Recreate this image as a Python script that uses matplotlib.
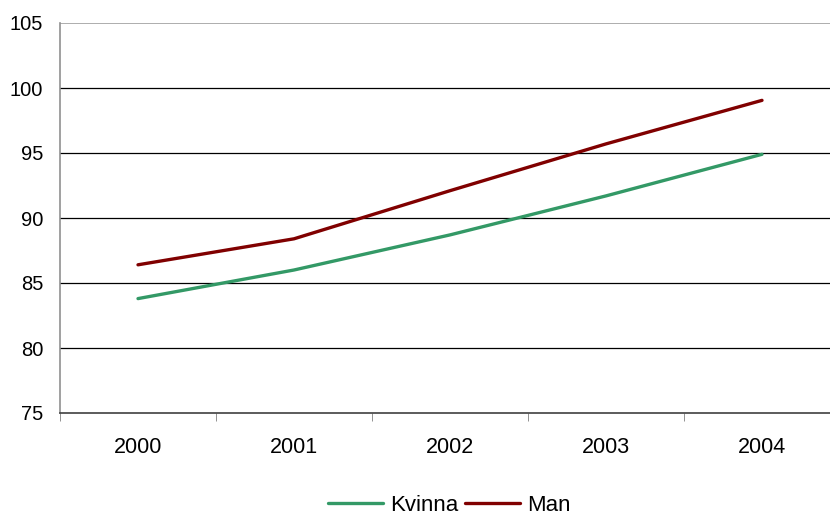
import matplotlib.pyplot as plt
import numpy as np

plt.rcParams['font.family'] = ['Liberation Sans', 'DejaVu Sans']

years = ['2000', '2001', '2002', '2003', '2004']
kvinna = [83.8, 86.0, 88.7, 91.7, 94.9]
man = [86.4, 88.4, 92.1, 95.7, 99.05]
yticks = [75, 80, 85, 90, 95, 100, 105]

fig = plt.figure(figsize=(8.3, 5.16), dpi=100)
# plot area runs past the right edge of the figure, as in the original
ax = fig.add_axes([60/830, 1 - 413/516, 780/830, (413 - 23)/516])

x = np.arange(len(years))
ax.plot(x, kvinna, color='#339966', lw=2.4, label='Kvinna', solid_capstyle='round')
ax.plot(x, man, color='#800000', lw=2.4, label='Man', solid_capstyle='round')

ax.set_ylim(75, 105)
ax.set_yticks(yticks)
ax.set_xlim(-0.5, len(years) - 0.5)
ax.set_xticks(x)
ax.set_xticklabels(years)
ax.set_xticks(np.arange(-0.5, len(years)), minor=True)
ax.tick_params(axis='x', which='major', length=0, pad=17, labelsize=15.5)
ax.tick_params(axis='x', which='minor', length=6, color='#808080', direction='out')
ax.tick_params(axis='y', length=0, pad=12, labelsize=14.5)

for v in yticks[1:-1]:
    ax.axhline(v, color='black', lw=0.9, zorder=0)
ax.axhline(105, color='#a0a0a0', lw=1.2, zorder=0)

for s in ['top', 'right']:
    ax.spines[s].set_visible(False)
ax.spines['left'].set_color('#909090')
ax.spines['left'].set_linewidth(1.2)
ax.spines['bottom'].set_color('#404040')
ax.spines['bottom'].set_linewidth(1.2)

fig.legend(loc='lower center', bbox_to_anchor=(0.541, -0.038), ncol=2, frameon=False,
           fontsize=16, handlelength=2.5, handletextpad=0.3, columnspacing=0.3)

fig.savefig('out.png', dpi=100)
